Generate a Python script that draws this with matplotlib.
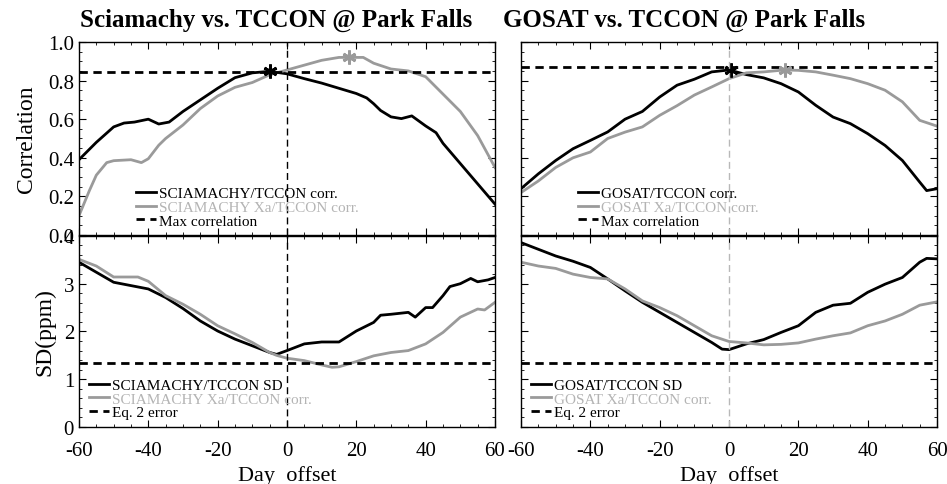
import numpy as np
import matplotlib
matplotlib.use('Agg')
import matplotlib.pyplot as plt
from matplotlib.ticker import MultipleLocator, FormatStrFormatter

plt.rcParams['font.family'] = ['Liberation Serif', 'DejaVu Serif']
plt.rcParams['axes.unicode_minus'] = False

# Sciamachy vs TCCON, correlation
sci_corr_x = [-60, -55, -50, -47, -44, -40, -37, -34, -30, -25, -20, -15, -10, -5, 0, 5, 10, 15, 20, 23,
              25, 27, 30, 33, 36, 40, 43, 45, 50, 55, 60]
sci_corr = [0.39, 0.48, 0.56, 0.58, 0.585, 0.60, 0.575, 0.585, 0.64, 0.70, 0.76, 0.815, 0.84, 0.848, 0.835,
            0.81, 0.787, 0.76, 0.733, 0.71, 0.68, 0.645, 0.612, 0.603, 0.617, 0.565, 0.53, 0.475, 0.37,
            0.265, 0.16]
sci_xa_corr_x = [-60, -57, -55, -52, -50, -45, -42, -40, -37, -35, -30, -25, -20, -15, -10, -5, 0, 5, 10,
                 15, 18, 22, 25, 30, 35, 40, 45, 50, 55, 60]
sci_xa_corr = [0.10, 0.23, 0.31, 0.375, 0.385, 0.39, 0.375, 0.395, 0.465, 0.50, 0.57, 0.655, 0.72, 0.765,
               0.79, 0.83, 0.855, 0.88, 0.905, 0.92, 0.92, 0.92, 0.89, 0.86, 0.85, 0.82, 0.73, 0.64, 0.515,
               0.35]
sci_max_corr = 0.845
sci_star = (-5, 0.848)
sci_xa_star = (18, 0.92)

# Sciamachy vs TCCON, SD
sci_sd_x = [-60, -55, -50, -45, -40, -35, -30, -25, -20, -15, -10, -5, -3, 0, 5, 10, 15, 20, 25, 27, 30,
            35, 37, 40, 42, 45, 47, 50, 53, 55, 58, 60]
sci_sd = [3.45, 3.24, 3.03, 2.96, 2.89, 2.71, 2.48, 2.22, 2.01, 1.84, 1.70, 1.56, 1.52, 1.60, 1.74, 1.78,
          1.78, 2.01, 2.19, 2.34, 2.36, 2.40, 2.30, 2.50, 2.50, 2.75, 2.94, 3.00, 3.11, 3.04, 3.08, 3.13]
sci_xa_sd_x = [-60, -55, -50, -43, -40, -35, -30, -25, -20, -15, -10, -5, -3, 0, 5, 10, 13, 15, 20, 25,
               30, 35, 40, 45, 50, 55, 57, 60]
sci_xa_sd = [3.51, 3.37, 3.14, 3.14, 3.05, 2.75, 2.57, 2.36, 2.12, 1.95, 1.77, 1.56, 1.50, 1.44, 1.39,
             1.30, 1.25, 1.26, 1.37, 1.49, 1.56, 1.60, 1.74, 1.98, 2.30, 2.47, 2.45, 2.61]
sci_err = 1.35

# GOSAT vs TCCON, correlation
gos_corr_x = [-60, -55, -50, -45, -40, -35, -30, -25, -20, -15, -10, -5, 0, 5, 10, 15, 20, 25, 30, 35,
              40, 45, 50, 55, 57, 60]
gos_corr = [0.24, 0.317, 0.386, 0.447, 0.49, 0.534, 0.60, 0.64, 0.715, 0.776, 0.807, 0.845, 0.855, 0.831,
            0.814, 0.784, 0.741, 0.672, 0.611, 0.577, 0.525, 0.464, 0.386, 0.274, 0.23, 0.24]
gos_xa_corr_x = [-60, -55, -50, -45, -40, -35, -30, -25, -20, -15, -10, -5, 0, 5, 10, 16, 20, 25, 30, 35,
                 40, 45, 50, 55, 60]
gos_xa_corr = [0.22, 0.28, 0.35, 0.40, 0.43, 0.50, 0.533, 0.56, 0.62, 0.67, 0.725, 0.767, 0.81, 0.84,
               0.845, 0.855, 0.853, 0.845, 0.828, 0.81, 0.784, 0.75, 0.69, 0.594, 0.564]
gos_max_corr = 0.872
gos_star = (0.5, 0.855)
gos_xa_star = (16, 0.855)

# GOSAT vs TCCON, SD
gos_sd_x = [-60, -55, -50, -45, -40, -35, -30, -25, -20, -15, -10, -5, -2, 0, 5, 10, 15, 20, 25, 30, 35,
            40, 45, 50, 55, 57, 60]
gos_sd = [3.86, 3.72, 3.58, 3.47, 3.34, 3.10, 2.85, 2.61, 2.40, 2.19, 1.98, 1.77, 1.63, 1.62, 1.74, 1.83,
          1.98, 2.12, 2.40, 2.55, 2.59, 2.82, 2.99, 3.13, 3.45, 3.53, 3.52]
gos_xa_sd_x = [-60, -55, -50, -45, -40, -35, -30, -25, -20, -15, -10, -5, 0, 5, 10, 15, 20, 25, 30, 35,
               40, 45, 50, 55, 60]
gos_xa_sd = [3.45, 3.37, 3.32, 3.20, 3.13, 3.10, 2.89, 2.64, 2.50, 2.33, 2.12, 1.91, 1.79, 1.76, 1.72,
             1.73, 1.76, 1.84, 1.91, 1.97, 2.12, 2.22, 2.36, 2.55, 2.62]
gos_err = 1.35

GREY = '#9a9a9a'
LGREY = '#b4b4b4'

fig = plt.figure(figsize=(9.47, 4.85), dpi=100)


def style(ax, minor_y):
    ax.set_xlim(-60, 60)
    ax.xaxis.set_major_locator(MultipleLocator(20))
    ax.xaxis.set_minor_locator(MultipleLocator(5))
    ax.yaxis.set_minor_locator(MultipleLocator(minor_y))
    ax.tick_params(which='both', direction='in', top=True, right=True, labelsize=15)
    ax.tick_params(which='major', length=5)
    ax.tick_params(which='minor', length=2.5)
    ax.tick_params(axis='x', pad=10)
    for s in ax.spines.values():
        s.set_linewidth(1.0)


def panel(left, name, cx, cy, cxa, cya, maxc, star, xastar, sx, sy, sxa, sya, err, vcol, show_y):
    top = fig.add_axes([left, 0.5134, 0.4393, 0.398])
    bot = fig.add_axes([left, 0.1175, 0.4393, 0.394])

    top.plot(cx, cy, color='k', lw=2, label=name + '/TCCON corr.')
    top.plot(cxa, cya, color=GREY, lw=2, label=name + ' Xa/TCCON corr.')
    top.axhline(maxc, color='k', lw=2, ls=(0, (3, 2)), label='Max correlation')
    top.plot(*xastar, marker=(6, 2, 0), color=GREY, ms=10, mew=2)
    top.plot(*star, marker=(6, 2, 0), color='k', ms=10, mew=2)
    top.axvline(0, color=vcol, lw=1, ls=(0, (5, 3)))
    top.set_ylim(0, 1.0)
    top.yaxis.set_major_locator(MultipleLocator(0.2))
    top.yaxis.set_major_formatter(FormatStrFormatter('%.1f'))
    style(top, 0.05)
    top.tick_params(labelbottom=False)

    bot.plot(sx, sy, color='k', lw=2, label=name + '/TCCON SD')
    bot.plot(sxa, sya, color=GREY, lw=2, label=name + ' Xa/TCCON corr.')
    bot.axhline(err, color='k', lw=2, ls=(0, (3, 2)), label='Eq. 2 error')
    bot.axvline(0, color=vcol, lw=1, ls=(0, (5, 3)))
    bot.set_ylim(0, 4)
    bot.yaxis.set_major_locator(MultipleLocator(1))
    style(bot, 0.2)
    bot.set_xlabel('Day  offset', fontsize=16, labelpad=4)

    if show_y:
        top.set_ylabel('Correlation', fontsize=17, labelpad=8)
        bot.set_ylabel('SD(ppm)', fontsize=17, labelpad=6)
    else:
        top.tick_params(labelleft=False)
        bot.tick_params(labelleft=False)

    return top, bot


def legend(ax, x, y):
    lg = ax.legend(loc='upper left', bbox_to_anchor=(x, y), frameon=False, fontsize=11,
                   handlelength=1.3, handletextpad=0.2, labelspacing=0.0, borderpad=0,
                   labelcolor=['k', LGREY, 'k'])
    return lg


t1, b1 = panel(0.0834, 'SCIAMACHY', sci_corr_x, sci_corr, sci_xa_corr_x, sci_xa_corr, sci_max_corr,
               sci_star, sci_xa_star, sci_sd_x, sci_sd, sci_xa_sd_x, sci_xa_sd, sci_err, 'k', True)
t2, b2 = panel(0.5502, 'GOSAT', gos_corr_x, gos_corr, gos_xa_corr_x, gos_xa_corr, gos_max_corr,
               gos_star, gos_xa_star, gos_sd_x, gos_sd, gos_xa_sd_x, gos_xa_sd, gos_err, '#b8b8b8', False)

legend(t1, 0.118, 0.29)
legend(b1, 0.006, 0.295)
legend(t2, 0.118, 0.29)
legend(b2, 0.006, 0.295)

fig.text(0.292, 0.957, 'Sciamachy vs. TCCON @ Park Falls', ha='center', va='center',
         fontsize=18, fontweight='bold')
fig.text(0.722, 0.957, 'GOSAT vs. TCCON @ Park Falls', ha='center', va='center',
         fontsize=18, fontweight='bold')

fig.savefig('out.png', dpi=100)
